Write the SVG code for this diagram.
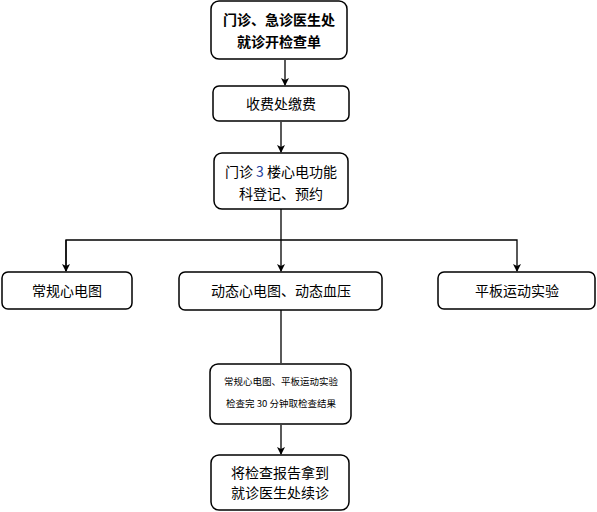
<svg xmlns="http://www.w3.org/2000/svg" width="597" height="512" viewBox="0 0 597 512">
<style>
.b{fill:#fff;stroke:#000;stroke-width:1.5}
.t{font-family:"Noto Sans CJK SC","Liberation Sans",sans-serif;fill:#000;text-anchor:middle}
.c{stroke:#000;stroke-width:1.3;fill:none}
</style>
<defs>
<marker id="a" markerWidth="8" markerHeight="8" refX="7" refY="4" orient="auto" markerUnits="userSpaceOnUse">
<path d="M0,0 L8,4 L0,8 L2,4 z" fill="#000"/>
</marker>
</defs>
<rect width="597" height="512" fill="#fff"/>
<g id="connectors">
<line class="c" x1="285" y1="60" x2="285" y2="85" marker-end="url(#a)"/>
<line class="c" x1="281" y1="122" x2="281" y2="152" marker-end="url(#a)"/>
<line class="c" x1="281" y1="209" x2="281" y2="271" marker-end="url(#a)"/>
<polyline class="c" points="66,271 66,240 517,240 517,271" marker-end="url(#a)"/>
<line class="c" x1="66" y1="240" x2="66" y2="271" marker-end="url(#a)"/>
<line class="c" x1="281" y1="310" x2="281" y2="363"/>
<line class="c" x1="281" y1="425" x2="281" y2="454" marker-end="url(#a)"/>
</g>
<g id="n1"><rect class="b" x="211" y="1" width="136" height="58" rx="8"/>
<text class="t" x="279" y="25" font-size="14" font-weight="bold">门诊、急诊医生处</text>
<text class="t" x="279" y="47" font-size="14" font-weight="bold">就诊开检查单</text></g>
<g id="n2"><rect class="b" x="213" y="86" width="136" height="35" rx="6"/>
<text class="t" x="281" y="109" font-size="14">收费处缴费</text></g>
<g id="n3"><rect class="b" x="214" y="153" width="134" height="56" rx="8"/>
<text class="t" x="281" y="177" font-size="14">门诊 <tspan fill="#1f3fa0">3</tspan> 楼心电功能</text>
<text class="t" x="281" y="199" font-size="14">科登记、预约</text></g>
<g id="n4"><rect class="b" x="2" y="272" width="130" height="37" rx="6"/>
<text class="t" x="67" y="296" font-size="14">常规心电图</text></g>
<g id="n5"><rect class="b" x="179" y="272" width="203" height="38" rx="6"/>
<text class="t" x="281" y="296" font-size="14">动态心电图、动态血压</text></g>
<g id="n6"><rect class="b" x="438" y="272" width="157" height="37" rx="6"/>
<text class="t" x="517" y="296" font-size="14">平板运动实验</text></g>
<g id="n7"><rect class="b" x="210" y="364" width="141" height="60" rx="8"/>
<text class="t" x="281" y="385" font-size="9.5">常规心电图、平板运动实验</text>
<text class="t" x="281" y="407" font-size="9.5">检查完 30 分钟取检查结果</text></g>
<g id="n8"><rect class="b" x="211" y="455" width="138" height="55" rx="8"/>
<text class="t" x="280" y="478" font-size="14">将检查报告拿到</text>
<text class="t" x="280" y="498" font-size="14">就诊医生处续诊</text></g>
</svg>
